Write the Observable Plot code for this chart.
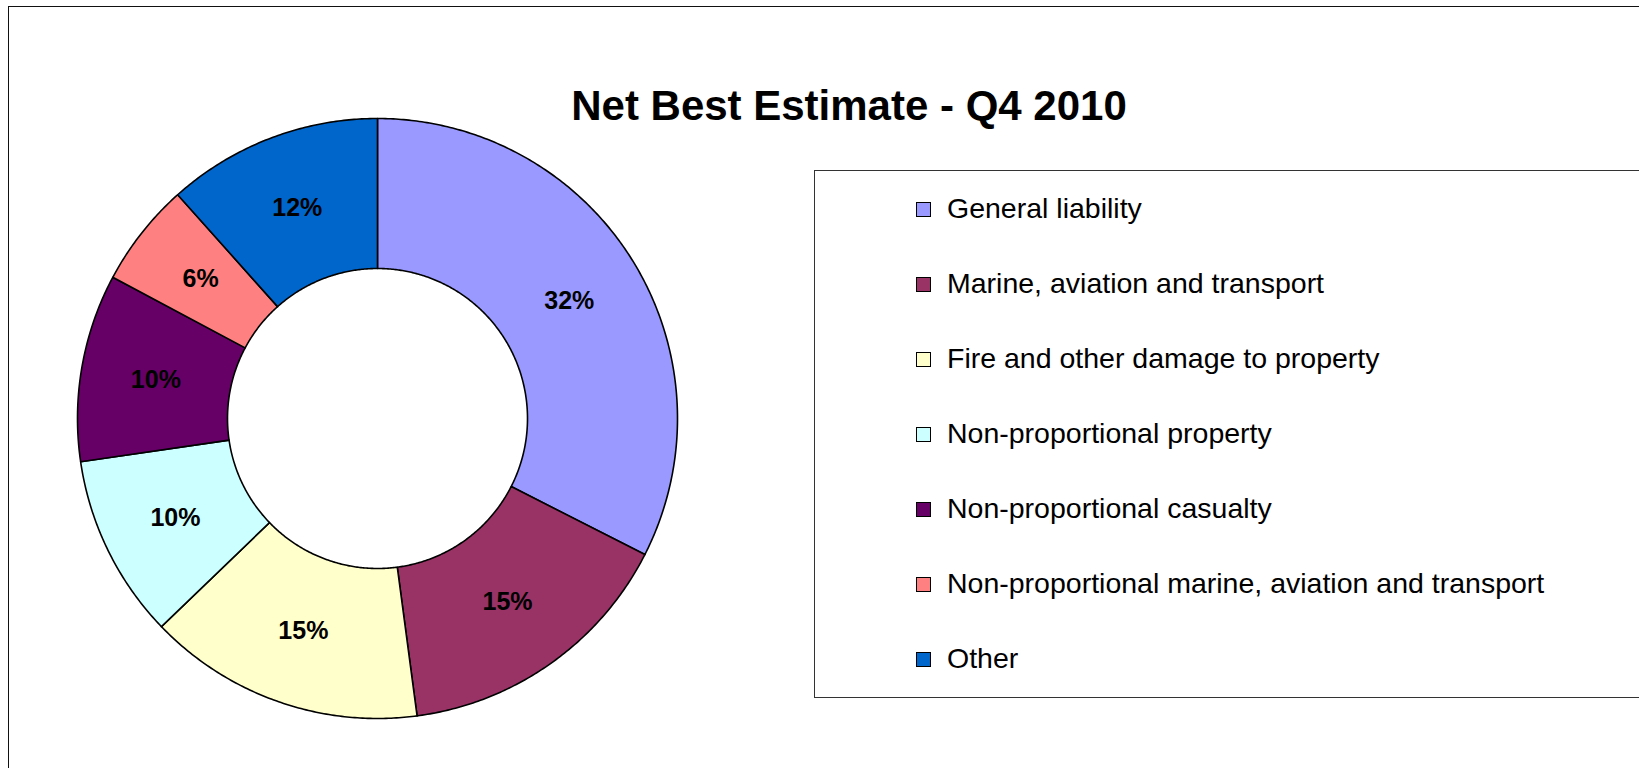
<!DOCTYPE html>
<html>
<head>
<meta charset="utf-8">
<script src="https://cdn.jsdelivr.net/npm/d3@7"></script>
<script src="https://cdn.jsdelivr.net/npm/@observablehq/plot@0.6"></script>
<style>
  html, body { margin: 0; padding: 0; background: #fff; width: 1639px; height: 768px; overflow: hidden;
    font-family: "Liberation Sans", Arial, sans-serif; }
  #frame { position: absolute; left: 8px; top: 6px; width: 1700px; height: 800px;
    border: 1.5px solid #111; box-sizing: border-box; }
  #chart { position: absolute; left: 0; top: 0; }
  #title { position: absolute; left: 349px; top: 85px; width: 1000px; text-align: center;
    font-size: 42px; line-height: 42px; font-weight: bold; color: #000; white-space: nowrap; }
  #legend { position: absolute; left: 814px; top: 170px; width: 900px; height: 528px;
    border: 1.5px solid #333; box-sizing: border-box; background: #fff; }
  .row { position: absolute; left: 0; height: 29px; white-space: nowrap; }
  .sw { position: absolute; left: 101px; top: 8px; width: 15px; height: 15px;
    border: 1.2px solid #000; box-sizing: border-box; }
  .lab { position: absolute; left: 132px; top: 0; font-size: 28.5px; line-height: 28.5px; color: #000; }
</style>
</head>
<body>
<div id="frame"></div>
<div id="chart"></div>
<div id="title"></div>
<div id="legend"></div>
<script>
const title = "Net Best Estimate - Q4 2010";
const names = [
  "General liability",
  "Marine, aviation and transport",
  "Fire and other damage to property",
  "Non-proportional property",
  "Non-proportional casualty",
  "Non-proportional marine, aviation and transport",
  "Other"
];
const values = [32.49, 15.4, 14.9, 9.9, 10.1, 5.6, 11.6];
const colors = ["#9999FF", "#993366", "#FFFFCC", "#CCFFFF", "#660066", "#FF8080", "#0066CC"];

const OUTER = 1, INNER = 0.5;
const total = d3.sum(values);
let acc = 0;
const slices = names.map((name, i) => {
  const a0 = acc / total * 2 * Math.PI;
  acc += values[i];
  const a1 = acc / total * 2 * Math.PI;
  return {name, value: values[i], a0, a1, label: Math.round(values[i]) + "%"};
});

const ring = [];
for (const s of slices) {
  const n = Math.max(2, Math.ceil((s.a1 - s.a0) / (Math.PI / 360)));
  const pts = [];
  for (let k = 0; k <= n; k++) {
    const a = s.a0 + (s.a1 - s.a0) * k / n;
    pts.push({name: s.name, x: Math.sin(a) * OUTER, y: Math.cos(a) * OUTER});
  }
  for (let k = n; k >= 0; k--) {
    const a = s.a0 + (s.a1 - s.a0) * k / n;
    pts.push({name: s.name, x: Math.sin(a) * INNER, y: Math.cos(a) * INNER});
  }
  pts.push({...pts[0]});
  ring.push(...pts);
}

const mid = (s) => (s.a0 + s.a1) / 2;
const LR = (OUTER + INNER) / 2;

const chart = Plot.plot({
  width: 1639,
  height: 768,
  style: {background: "transparent"},
  x: {domain: [-1, 1], range: [77, 677], axis: null},
  y: {domain: [-1, 1], range: [718, 118], axis: null},
  color: {domain: names, range: colors},
  marks: [
    Plot.line(ring, {x: "x", y: "y", z: "name", fill: "name", stroke: "#000", strokeWidth: 1.6,
      strokeLinejoin: "round", curve: "linear"}),
    Plot.text(slices, {
      x: d => Math.sin(mid(d)) * LR,
      y: d => Math.cos(mid(d)) * LR,
      text: "label",
      fill: "#000",
      fontSize: 25,
      fontWeight: "bold",
      fontFamily: "Liberation Sans, Arial, sans-serif"
    })
  ]
});
document.getElementById("chart").appendChild(chart);
document.getElementById("title").textContent = title;

const legend = document.getElementById("legend");
names.forEach((n, i) => {
  const row = document.createElement("div");
  row.className = "row";
  row.style.top = (23 + 75 * i) + "px";
  const sw = document.createElement("div");
  sw.className = "sw";
  sw.style.background = colors[i];
  const lab = document.createElement("div");
  lab.className = "lab";
  lab.textContent = n;
  row.appendChild(sw);
  row.appendChild(lab);
  legend.appendChild(row);
});
</script>
</body>
</html>
